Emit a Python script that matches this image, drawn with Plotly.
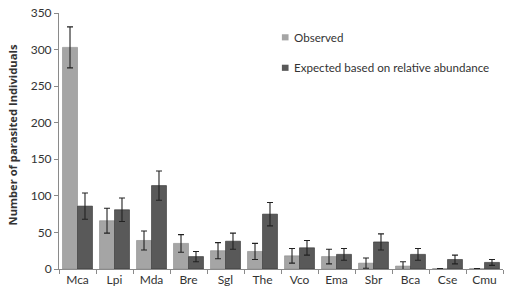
import plotly.graph_objects as go

categories = ["Mca", "Lpi", "Mda", "Bre", "Sgl", "The", "Vco", "Ema", "Sbr", "Bca", "Cse", "Cmu"]
observed = [303, 66, 39, 35, 25, 24, 18, 17, 8, 4, 0.5, 0.5]
observed_err = [28, 17, 13, 12, 11, 11, 10, 10, 7, 6, 0, 0]
expected = [86, 81, 114, 17, 38, 75, 29, 20, 37, 20, 13, 9]
expected_err = [18, 16, 20, 7, 11, 16, 10, 8, 11, 8, 6, 4]
series_names = ["Observed", "Expected based on relative abundance"]
series_colors = ["#a5a5a5", "#595959"]
y_title = "Number of parasited Individuals"

FONT = "Lato, Open Sans, Liberation Sans, sans-serif"

fig = go.Figure()
fig.add_trace(go.Bar(
    x=categories, y=observed, name=series_names[0], showlegend=False,
    marker=dict(color=series_colors[0], line=dict(color="#8c8c8c", width=0.6)),
    error_y=dict(type="data", array=observed_err, color="#222222", thickness=1.1, width=3),
))
fig.add_trace(go.Bar(
    x=categories, y=expected, name=series_names[1], showlegend=False,
    marker=dict(color=series_colors[1], line=dict(color="#333333", width=0.6)),
    error_y=dict(type="data", array=expected_err, color="#222222", thickness=1.1, width=3),
))

# manual legend (small square swatches like the reference)
legend_y = [0.905, 0.786]
for name, col, yy in zip(series_names, series_colors, legend_y):
    fig.add_shape(type="rect", xref="paper", yref="paper",
                  x0=0.502, x1=0.517, y0=yy - 0.012, y1=yy + 0.012,
                  fillcolor=col, line=dict(width=0))
    fig.add_annotation(xref="paper", yref="paper", x=0.524, y=yy,
                       text=name, showarrow=False, xanchor="left", yanchor="middle",
                       font=dict(family=FONT, size=11.6, color="#333333"))

# y-axis title
fig.add_annotation(xref="paper", yref="paper", x=-0.104, y=0.525,
                   text="<b>" + y_title + "</b>", textangle=-90, showarrow=False,
                   xanchor="center", yanchor="middle",
                   font=dict(family="Open Sans, sans-serif", size=11.2, color="#333333"))

fig.update_layout(
    width=508, height=292,
    margin=dict(l=59, r=5, t=8, b=22),
    paper_bgcolor="white", plot_bgcolor="white",
    barmode="group", bargap=0.19, bargroupgap=0,
    font=dict(family=FONT, size=12, color="#333333"),
    xaxis=dict(
        showline=True, linecolor="#8a8a8a", linewidth=1,
        ticks="outside", tickson="boundaries", ticklen=4, tickcolor="#8a8a8a",
        showgrid=False, tickfont=dict(family=FONT, size=12, color="#333333"),
    ),
    yaxis=dict(
        range=[0, 350], dtick=50, showline=True, linecolor="#8a8a8a", linewidth=1,
        ticks="outside", ticklen=4, tickcolor="#8a8a8a", showgrid=False,
        tickfont=dict(family=FONT, size=12, color="#333333"), zeroline=False,
    ),
)

fig.write_html("out.html")
